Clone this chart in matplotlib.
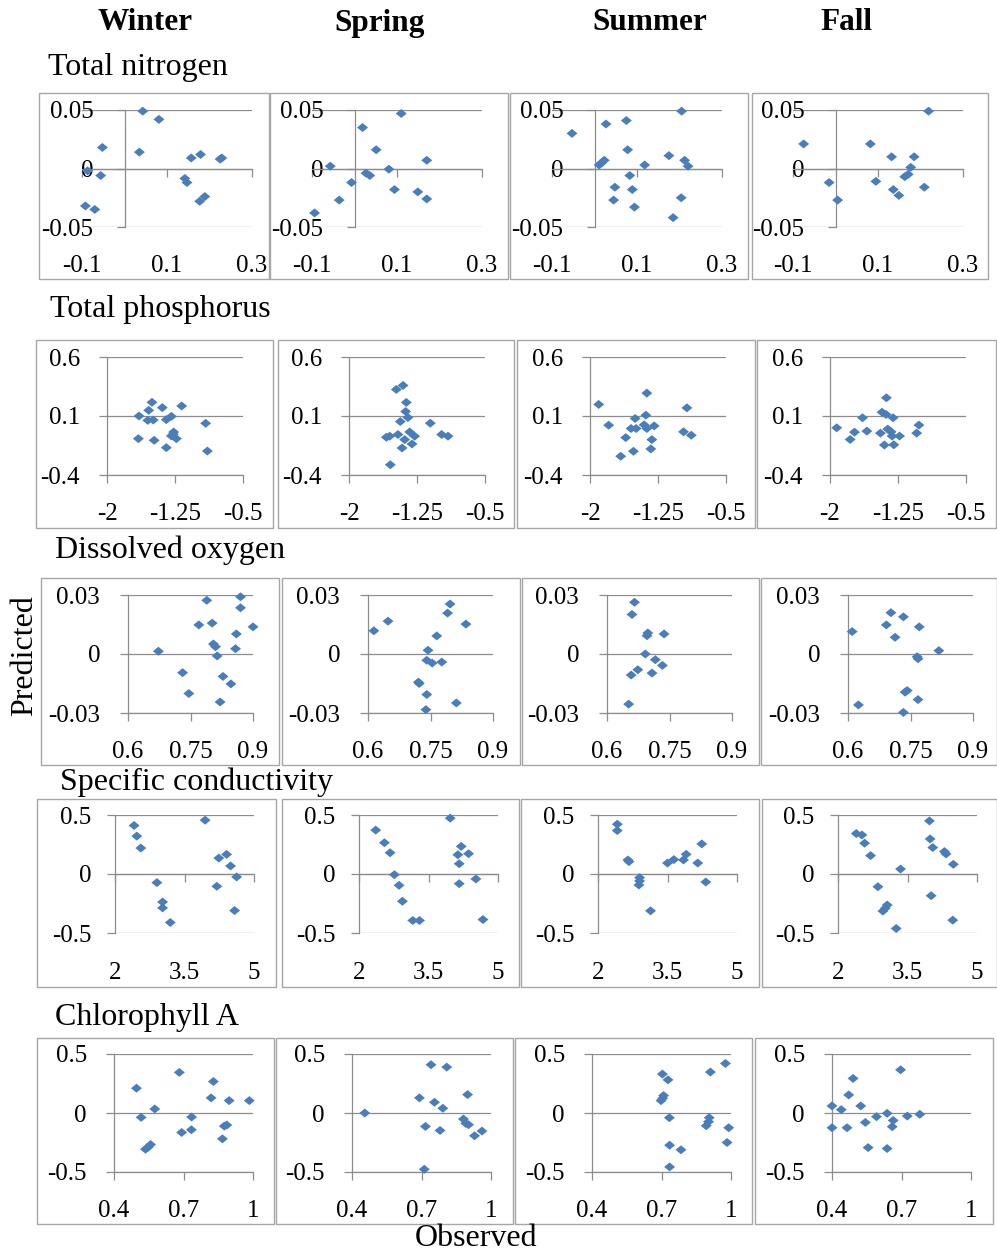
import matplotlib
matplotlib.use('Agg')
import matplotlib.pyplot as plt
from matplotlib.patches import Rectangle
from matplotlib.path import Path

# ---------------- data ----------------
seasons = ['Winter', 'Spring', 'Summer', 'Fall']
variables = ['Total nitrogen', 'Total phosphorus', 'Dissolved oxygen',
             'Specific conductivity', 'Chlorophyll A']

tn_win_obs = [0.043, 0.081, -0.052, 0.035, 0.157, 0.179, 0.225, 0.229, -0.087, -0.056, 0.142, 0.147, -0.092, -0.070, 0.177, 0.189]
tn_win_pred = [0.049, 0.042, 0.018, 0.014, 0.009, 0.012, 0.008, 0.009, -0.002, -0.006, -0.0085, -0.012, -0.032, -0.035, -0.028, -0.024]
tn_spr_obs = [0.110, 0.019, 0.051, 0.170, -0.057, 0.081, 0.027, 0.036, -0.007, 0.094, 0.149, 0.170, -0.036, -0.094]
tn_spr_pred = [0.047, 0.035, 0.016, 0.007, 0.002, -0.0006, -0.004, -0.006, -0.012, -0.018, -0.020, -0.026, -0.027, -0.038]
tn_sum_obs = [0.205, -0.053, 0.027, 0.075, 0.078, 0.175, 0.212, 0.220, 0.118, 0.011, 0.017, 0.023, 0.083, 0.048, 0.089, 0.045, 0.094, 0.204, 0.185]
tn_sum_pred = [0.049, 0.030, 0.038, 0.041, 0.016, 0.011, 0.007, 0.002, 0.003, 0.003, 0.005, 0.007, -0.006, -0.016, -0.018, -0.027, -0.033, -0.025, -0.042]
tn_fal_obs = [0.219, -0.075, 0.082, 0.132, 0.185, 0.177, 0.171, 0.163, -0.015, 0.095, 0.136, 0.149, 0.209, 0.005]
tn_fal_pred = [0.049, 0.021, 0.021, 0.010, 0.010, 0.001, -0.005, -0.007, -0.012, -0.011, -0.018, -0.023, -0.016, -0.027]

tp_win_obs = [-1.504, -1.54, -1.39, -1.176, -1.647, -1.55, -1.49, -1.346, -1.29, -0.912, -1.265, -1.29, -1.235, -1.654, -1.48, -1.346, -0.893, -1.27]
tp_win_pred = [0.216, 0.148, 0.171, 0.185, 0.100, 0.063, 0.066, 0.069, 0.097, 0.038, -0.036, -0.069, -0.092, -0.092, -0.106, -0.168, -0.197, -0.055]
tp_spr_obs = [-1.404, -1.478, -1.368, -1.375, -1.35, -1.434, -1.103, -1.331, -1.46, -1.551, -1.588, -1.276, -1.386, -1.305, -0.978, -0.908, -1.415, -1.544]
tp_spr_pred = [0.359, 0.325, 0.215, 0.138, 0.087, 0.053, 0.039, -0.035, -0.057, -0.071, -0.080, -0.071, -0.100, -0.137, -0.057, -0.071, -0.171, -0.313]
tp_sum_obs = [-1.373, -1.904, -0.931, -1.384, -1.502, -1.794, -1.547, -1.491, -1.403, -1.373, -1.292, -0.968, -0.883, -1.606, -1.318, -1.329, -1.521, -1.661]
tp_sum_pred = [0.294, 0.198, 0.169, 0.107, 0.079, 0.022, -0.006, -0.006, 0.025, -0.006, 0.016, -0.034, -0.063, -0.083, -0.100, -0.179, -0.199, -0.241]
tp_fal_obs = [-1.378, -1.426, -1.381, -1.304, -1.641, -1.019, -1.926, -1.593, -1.730, -1.444, -1.363, -1.326, -1.315, -1.233, -1.044, -1.778, -1.400, -1.296]
tp_fal_pred = [0.254, 0.132, 0.113, 0.085, 0.085, 0.023, 0.000, -0.028, -0.037, -0.045, -0.011, -0.034, -0.070, -0.070, -0.045, -0.099, -0.146, -0.144]

do_win_obs = [0.870, 0.789, 0.870, 0.900, 0.770, 0.802, 0.860, 0.805, 0.810, 0.858, 0.673, 0.814, 0.731, 0.828, 0.847, 0.746, 0.821]
do_win_pred = [0.0291, 0.0273, 0.0235, 0.0138, 0.0148, 0.0157, 0.0102, 0.0051, 0.0037, 0.0027, 0.0014, -0.0010, -0.0095, -0.0114, -0.0152, -0.0201, -0.0244]
do_spr_obs = [0.797, 0.791, 0.614, 0.648, 0.835, 0.765, 0.744, 0.741, 0.754, 0.777, 0.721, 0.723, 0.741, 0.812, 0.739]
do_spr_pred = [0.0254, 0.0208, 0.0118, 0.0167, 0.0152, 0.0092, 0.0019, -0.0032, -0.0046, -0.0041, -0.0143, -0.0150, -0.0206, -0.0249, -0.0283]
do_sum_obs = [0.666, 0.660, 0.698, 0.696, 0.737, 0.692, 0.716, 0.733, 0.674, 0.708, 0.658, 0.652]
do_sum_pred = [0.0263, 0.0201, 0.0107, 0.0093, 0.0102, 0.0000, -0.0029, -0.0058, -0.0080, -0.0097, -0.0107, -0.0255]
do_fal_obs = [0.703, 0.733, 0.692, 0.771, 0.610, 0.713, 0.818, 0.766, 0.768, 0.742, 0.737, 0.768, 0.625, 0.733]
do_fal_pred = [0.0210, 0.0189, 0.0148, 0.0138, 0.0114, 0.0085, 0.0017, -0.0014, -0.0024, -0.0186, -0.0194, -0.0232, -0.0259, -0.0297]

sc_win_obs = [3.945, 2.412, 2.470, 2.557, 4.408, 4.241, 4.494, 4.625, 2.904, 4.198, 3.027, 3.027, 4.581, 3.193]
sc_win_pred = [0.456, 0.411, 0.321, 0.220, 0.166, 0.135, 0.068, -0.025, -0.073, -0.104, -0.237, -0.287, -0.310, -0.411]
sc_spr_obs = [3.968, 2.361, 2.548, 2.671, 4.206, 4.134, 4.365, 4.163, 2.764, 4.163, 4.523, 2.865, 2.937, 3.161, 3.305, 4.675]
sc_spr_pred = [0.473, 0.372, 0.265, 0.180, 0.234, 0.163, 0.172, 0.087, -0.006, -0.082, -0.042, -0.096, -0.231, -0.394, -0.394, -0.386]
sc_sum_obs = [2.416, 2.416, 2.646, 2.668, 2.897, 2.897, 2.883, 3.134, 3.500, 3.637, 3.845, 3.902, 4.153, 4.240, 4.326]
sc_sum_pred = [0.422, 0.368, 0.119, 0.105, -0.031, -0.059, -0.093, -0.312, 0.093, 0.122, 0.119, 0.167, 0.093, 0.255, -0.068]
sc_fal_obs = [3.974, 2.395, 2.517, 2.574, 2.703, 3.988, 4.045, 4.297, 4.332, 4.490, 3.350, 2.861, 3.062, 2.969, 4.010, 4.476, 3.256, 3.020]
sc_fal_pred = [0.450, 0.343, 0.331, 0.261, 0.156, 0.297, 0.224, 0.190, 0.170, 0.082, 0.042, -0.108, -0.263, -0.314, -0.184, -0.391, -0.462, -0.290]

ch_win_obs = [0.682, 0.829, 0.497, 0.819, 0.897, 0.984, 0.576, 0.517, 0.735, 0.734, 0.692, 0.887, 0.876, 0.868, 0.558, 0.536, 0.547]
ch_win_pred = [0.344, 0.267, 0.210, 0.128, 0.105, 0.105, 0.034, -0.037, -0.034, -0.142, -0.165, -0.102, -0.111, -0.219, -0.267, -0.307, -0.290]
ch_spr_obs = [0.741, 0.809, 0.691, 0.899, 0.756, 0.792, 0.455, 0.881, 0.891, 0.903, 0.717, 0.780, 0.929, 0.961, 0.712]
ch_spr_pred = [0.409, 0.389, 0.128, 0.156, 0.091, 0.040, 0.000, -0.051, -0.088, -0.099, -0.114, -0.148, -0.193, -0.153, -0.477]
ch_sum_obs = [0.976, 0.704, 0.728, 0.911, 0.709, 0.705, 0.698, 0.734, 0.906, 0.903, 0.893, 0.990, 0.983, 0.735, 0.784, 0.735]
ch_sum_pred = [0.420, 0.330, 0.281, 0.347, 0.148, 0.125, 0.105, -0.040, -0.040, -0.074, -0.108, -0.125, -0.250, -0.273, -0.312, -0.457]
ch_fal_obs = [0.696, 0.491, 0.472, 0.400, 0.524, 0.440, 0.592, 0.638, 0.725, 0.779, 0.544, 0.664, 0.660, 0.400, 0.465, 0.556, 0.638]
ch_fal_pred = [0.366, 0.293, 0.153, 0.060, 0.060, 0.028, -0.031, -0.003, -0.026, -0.011, -0.080, -0.063, -0.116, -0.125, -0.125, -0.293, -0.301]

panel_data = [
    [(tn_win_obs, tn_win_pred), (tn_spr_obs, tn_spr_pred), (tn_sum_obs, tn_sum_pred), (tn_fal_obs, tn_fal_pred)],
    [(tp_win_obs, tp_win_pred), (tp_spr_obs, tp_spr_pred), (tp_sum_obs, tp_sum_pred), (tp_fal_obs, tp_fal_pred)],
    [(do_win_obs, do_win_pred), (do_spr_obs, do_spr_pred), (do_sum_obs, do_sum_pred), (do_fal_obs, do_fal_pred)],
    [(sc_win_obs, sc_win_pred), (sc_spr_obs, sc_spr_pred), (sc_sum_obs, sc_sum_pred), (sc_fal_obs, sc_fal_pred)],
    [(ch_win_obs, ch_win_pred), (ch_spr_obs, ch_spr_pred), (ch_sum_obs, ch_sum_pred), (ch_fal_obs, ch_fal_pred)],
]

# axis ticks per row
x_ticks = [[-0.1, 0.1, 0.3], [-2, -1.25, -0.5], [0.6, 0.75, 0.9], [2, 3.5, 5], [0.4, 0.7, 1]]
x_labels = [['-0.1', '0.1', '0.3'], ['-2', '-1.25', '-0.5'], ['0.6', '0.75', '0.9'], ['2', '3.5', '5'], ['0.4', '0.7', '1']]
y_ticks = [[-0.05, 0, 0.05], [-0.4, 0.1, 0.6], [-0.03, 0, 0.03], [-0.5, 0, 0.5], [-0.5, 0, 0.5]]
y_labels = [['-0.05', '0', '0.05'], ['-0.4', '0.1', '0.6'], ['-0.03', '0', '0.03'], ['-0.5', '0', '0.5'], ['-0.5', '0', '0.5']]
x_cross = [0, 'min', 'min', 0, 'min']      # where horizontal axis crosses
v_axis = [0, 'min', 'min', 'min', 'min']   # where vertical axis sits

# ---------------- layout (pixels) ----------------
W, H = 997, 1256
plot_lefts = [[82, 312, 552, 793], [107, 349, 590, 830], [128, 368, 607, 848],
              [115, 359, 598, 838], [114, 352, 592, 832]]
plot_widths = [170, 136, 125, 139, 139]
plot_tops = [110, 357, 595, 815, 1054]
plot_bottoms = [227, 475, 713, 933, 1172]
box_x = [[(39, 269), (270, 508), (510, 748), (752, 988)],
         [(36, 273), (278, 514), (517, 755), (757, 996)],
         [(41, 279), (282, 520), (522, 759), (761, 997)],
         [(37, 276), (282, 519), (521, 759), (762, 997)],
         [(37, 274), (276, 513), (515, 752), (755, 993)]]
box_y = [(93, 279), (340, 528), (578, 765), (799, 987), (1038, 1224)]
y_pads = [16.5, 13.5, 14.0, 11.0, 13.5]
x_pads = [20, 20, 20, 21, 20]

LINE = '#8c8c8c'
BOX = '#a6a6a6'
MARK = '#4a7ebb'
FS = 18
TFS = 23

plt.rcParams['font.family'] = ['Liberation Serif', 'DejaVu Serif']
fig = plt.figure(figsize=(W / 100, H / 100), dpi=100)

diamond = Path([(-1, 0), (0, 0.82), (1, 0), (0, -0.82), (-1, 0)],
               [Path.MOVETO, Path.LINETO, Path.LINETO, Path.LINETO, Path.CLOSEPOLY])

for r in range(5):
    # panel boxes
    for c in range(4):
        x0, x1 = box_x[r][c]
        y0, y1 = box_y[r]
        fig.patches.append(Rectangle((x0 / W, 1 - y1 / H), (x1 - x0) / W, (y1 - y0) / H,
                                     transform=fig.transFigure, fill=False,
                                     edgecolor=BOX, linewidth=1.0))
    for c in range(4):
        l = plot_lefts[r][c]
        w = plot_widths[r]
        t, b = plot_tops[r], plot_bottoms[r]
        ax = fig.add_axes([l / W, 1 - b / H, w / W, (b - t) / H])
        xs, ys = panel_data[r][c]
        xmin, xmax = x_ticks[r][0], x_ticks[r][-1]
        ymin, ymax = y_ticks[r][0], y_ticks[r][-1]
        ax.set_xlim(xmin, xmax)
        ax.set_ylim(ymin, ymax)
        ax.set_facecolor('none')
        for s in ['top', 'right']:
            ax.spines[s].set_visible(False)
        cross = ymin if x_cross[r] == 'min' else x_cross[r]
        vpos = xmin if v_axis[r] == 'min' else v_axis[r]
        ax.spines['bottom'].set_position(('data', cross))
        ax.spines['left'].set_position(('data', vpos))
        for s in ['bottom', 'left']:
            ax.spines[s].set_color(LINE)
            ax.spines[s].set_linewidth(0.9)
        ax.set_yticks(y_ticks[r], y_labels[r])
        ax.set_xticks(x_ticks[r])
        ax.tick_params(axis='x', direction='out', length=6, width=0.9,
                       color=LINE, labelbottom=False)
        ax.tick_params(axis='y', direction='out', length=6, width=0.9,
                       color=LINE, pad=y_pads[r], labelsize=FS)
        ax.yaxis.grid(True, color=LINE, linewidth=0.9)
        ax.set_axisbelow(True)
        sec = ax.secondary_xaxis(0)
        sec.set_xticks(x_ticks[r], x_labels[r])
        sec.tick_params(length=0, pad=x_pads[r], labelsize=FS)
        sec.spines['bottom'].set_visible(False)
        ax.scatter(xs, ys, marker=diamond, s=62, color=MARK, edgecolors='none',
                   zorder=3, clip_on=False)

# headers
header_x = [145, 380, 650, 846]
for sx, name in zip(header_x, seasons):
    fig.text(sx / W, 1 - 23 / H, name, ha='center', va='center',
             fontsize=22.5, fontweight='bold')

title_pos = [(48, 67), (50, 310), (55, 550), (60, 782), (55, 1017)]
for (tx, ty), name in zip(title_pos, variables):
    fig.text(tx / W, 1 - ty / H, name, ha='left', va='center', fontsize=TFS)

fig.text(25 / W, 1 - 656 / H, 'Predicted', rotation=90, ha='center', va='center', fontsize=TFS)
fig.text(476 / W, 1 - 1239 / H, 'Observed', ha='center', va='center', fontsize=TFS)

fig.savefig('out.png', dpi=100)
